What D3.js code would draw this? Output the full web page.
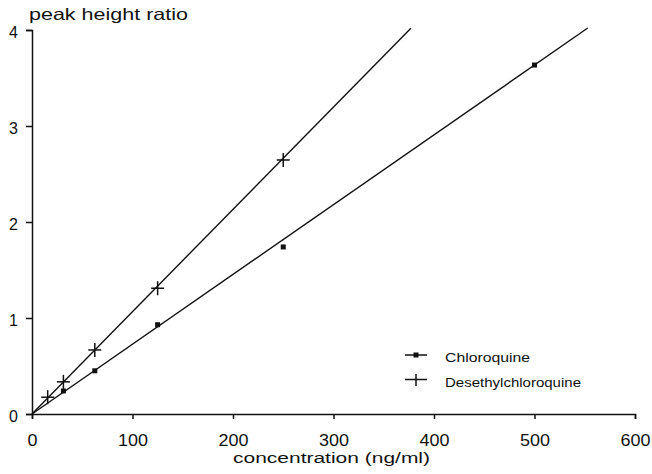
<!DOCTYPE html>
<html><head><meta charset="utf-8">
<script src="https://cdn.jsdelivr.net/npm/d3@7"></script>
<style>body{margin:0;background:#fff}svg{display:block}text{font-family:"Liberation Sans",Arial,sans-serif;fill:#111}</style>
</head><body>
<svg id="c" width="652" height="474"></svg>
<script>
// Data
const chloroX = [31.25, 62.5, 125, 250, 500];
const chloroY = [0.24, 0.45, 0.93, 1.74, 3.635];
const desX = [15.6, 31.25, 62.5, 125, 250];
const desY = [0.175, 0.335, 0.667, 1.31, 2.646];
// fitted lines through origin: [xStart, xEnd] and slope
const chloroFitX = [0, 553];
const chloroSlope = 0.00727;
const desFitX = [0, 377];
const desSlope = 0.01066;
const xTicks = [0, 100, 200, 300, 400, 500, 600];
const yTicks = [0, 1, 2, 3, 4];
const seriesNames = ["Chloroquine", "Desethylchloroquine"];

const svg = d3.select("#c");
const x = d3.scaleLinear().domain([0, 600]).range([32, 635]);
const y = d3.scaleLinear().domain([0, 4]).range([414, 30]);

// axes
const xAxis = svg.append("g").attr("transform", `translate(0,${y(0)})`)
  .call(d3.axisBottom(x).tickValues(xTicks).tickFormat(d3.format("d")).tickSize(5).tickSizeOuter(5).tickPadding(16));
const yAxis = svg.append("g").attr("transform", `translate(${x(0)},0)`)
  .call(d3.axisLeft(y).tickValues(yTicks).tickFormat(d3.format("d")).tickSize(6).tickSizeOuter(6).tickPadding(8));
[xAxis, yAxis].forEach(g => {
  g.selectAll("path,line").attr("stroke", "#111").attr("stroke-width", 1.5);
  g.selectAll("text").attr("font-size", 16).attr("font-family", '"Liberation Sans",Arial,sans-serif').attr("fill", "#111");
});
xAxis.selectAll("text").attr("textLength", d => String(d).length * 10).attr("lengthAdjust", "spacingAndGlyphs");
yAxis.selectAll("text").attr("dy", "0.45em");

// titles
svg.append("text").attr("x", 29).attr("y", 20).attr("font-size", 16.5)
  .attr("textLength", 159).attr("lengthAdjust", "spacingAndGlyphs").text("peak height ratio");
svg.append("text").attr("x", 233).attr("y", 463).attr("font-size", 15.5)
  .attr("textLength", 197).attr("lengthAdjust", "spacingAndGlyphs").text("concentration (ng/ml)");

// fit lines
const line = d3.line().x(d => x(d[0])).y(d => y(d[1]));
svg.append("path").datum(chloroFitX.map(v => [v, v * chloroSlope]))
  .attr("d", line).attr("fill", "none").attr("stroke", "#111").attr("stroke-width", 1.4);
svg.append("path").datum(desFitX.map(v => [v, v * desSlope]))
  .attr("d", line).attr("fill", "none").attr("stroke", "#111").attr("stroke-width", 1.4);

// chloroquine markers: small squares
svg.append("g").selectAll("rect").data(chloroX.map((v, i) => [v, chloroY[i]])).join("rect")
  .attr("x", d => x(d[0]) - 2.5).attr("y", d => y(d[1]) - 2.5)
  .attr("width", 5).attr("height", 5).attr("fill", "#111");

// desethyl markers: plus
const plus = (g, cx, cy, w, h) => {
  g.append("line").attr("x1", cx - w / 2).attr("x2", cx + w / 2).attr("y1", cy).attr("y2", cy);
  g.append("line").attr("x1", cx).attr("x2", cx).attr("y1", cy - h / 2).attr("y2", cy + h / 2);
};
const pg = svg.append("g").attr("stroke", "#111").attr("stroke-width", 1.5);
desX.forEach((v, i) => plus(pg, x(v), y(desY[i]), 13, 14));

// legend
const lg = svg.append("g");
lg.append("line").attr("x1", 405).attr("x2", 427).attr("y1", 355).attr("y2", 355).attr("stroke", "#111").attr("stroke-width", 1.5);
lg.append("rect").attr("x", 413.5).attr("y", 352.5).attr("width", 5).attr("height", 5).attr("fill", "#111");
lg.append("line").attr("x1", 405).attr("x2", 427).attr("y1", 379.5).attr("y2", 379.5).attr("stroke", "#111").attr("stroke-width", 1.5);
lg.append("line").attr("x1", 416).attr("x2", 416).attr("y1", 374).attr("y2", 386).attr("stroke", "#111").attr("stroke-width", 1.5);
lg.append("text").attr("x", 445).attr("y", 362).attr("font-size", 12.5)
  .attr("textLength", 85).attr("lengthAdjust", "spacingAndGlyphs").text(seriesNames[0]);
lg.append("text").attr("x", 445).attr("y", 387).attr("font-size", 12.5)
  .attr("textLength", 136).attr("lengthAdjust", "spacingAndGlyphs").text(seriesNames[1]);
</script>
</body></html>
